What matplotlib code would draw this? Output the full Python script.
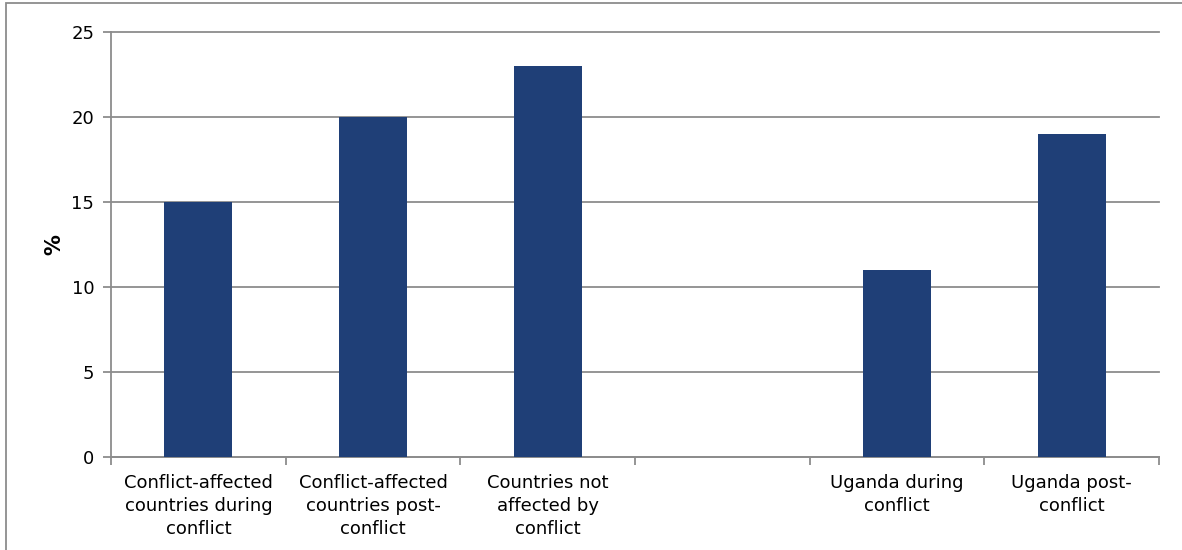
import numpy as np
import matplotlib.pyplot as plt
from matplotlib.patches import Rectangle

# chart data
categories = ["Conflict-affected\ncountries during\nconflict",
              "Conflict-affected\ncountries post-\nconflict",
              "Countries not\naffected by\nconflict",
              "",
              "Uganda during\nconflict",
              "Uganda post-\nconflict"]
values = [15, 20, 23, np.nan, 11, 19]
yticks = [0, 5, 10, 15, 20, 25]

bar_color = "#1F3F77"
grid_color = "#8C8C8C"

plt.rcParams["font.family"] = "DejaVu Sans"

fig = plt.figure(figsize=(11.82, 5.5), dpi=100)
ax = fig.add_axes([111/1182, 1 - 457/550, (1159-111)/1182, (457-32)/550])

x = np.arange(len(categories))
ax.bar(x, values, width=0.39, color=bar_color, zorder=3)

ax.set_xlim(-0.5, len(categories) - 0.5)
ax.set_ylim(0, 25)
ax.set_yticks(yticks)
ax.tick_params(axis="y", labelsize=13, length=6, color=grid_color, width=1.3, pad=6)
ax.yaxis.grid(True, color=grid_color, linewidth=1.3, zorder=0)
for gl in ax.get_ygridlines():
    gl.set_clip_on(False)

# category labels centred, ticks on the boundaries
ax.set_xticks(x)
ax.set_xticklabels(categories, fontsize=13, linespacing=1.38)
ax.tick_params(axis="x", length=0, pad=12)
ax.set_xticks(np.arange(len(categories) + 1) - 0.5, minor=True)
ax.tick_params(axis="x", which="minor", length=6, color=grid_color, width=1.3)

for side in ["top", "right"]:
    ax.spines[side].set_visible(False)
for side in ["left", "bottom"]:
    ax.spines[side].set_color(grid_color)
    ax.spines[side].set_linewidth(1.3)

ax.set_ylabel("%", fontsize=15, fontweight="bold", labelpad=5)

# outer frame of the chart box
fig.patches.append(Rectangle((6/1182, -0.1), 1.2, 1 - 3/550 + 0.1,
                             transform=fig.transFigure, fill=False,
                             edgecolor="#8C8C8C", linewidth=1.3))

plt.savefig("out.png", dpi=100)
